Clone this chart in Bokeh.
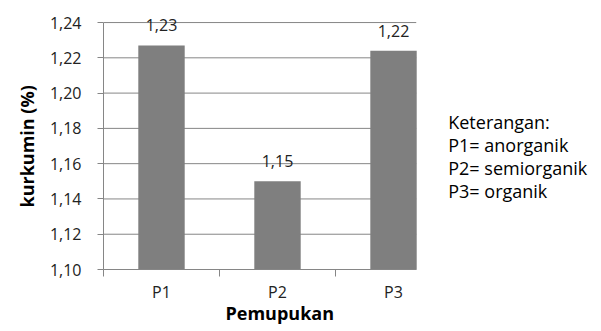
from bokeh.plotting import figure
from bokeh.models import (ColumnDataSource, FixedTicker, LabelSet, Label,
                          Range1d, Title)
from bokeh.core.properties import value
from bokeh.embed import file_html
from bokeh.resources import INLINE

# ---- data ----
categories = ["P1", "P2", "P3"]
kurkumin = [1.227, 1.150, 1.224]
y_ticks = [1.10, 1.12, 1.14, 1.16, 1.18, 1.20, 1.22, 1.24]
y_tick_labels = ["1,10", "1,12", "1,14", "1,16", "1,18", "1,20", "1,22", "1,24"]
legend_lines = ["Keterangan:", "P1= anorganik", "P2= semiorganik", "P3= organik"]
x_title = "Pemupukan"
y_title = "kurkumin (%)"

FONT = "Open Sans"
GRID = "#868686"
BAR = "#7f7f7f"
TXT = "#222222"

Y_MIN, Y_MAX = y_ticks[0], y_ticks[-1]
PLOT_END = 2.696      # right end of the chart area (category units)
X_END = 4.293         # frame extends to the canvas edge (room for the note)
Y_END = 1.2525        # a little head-room above the top gridline for labels

xs = [i + 0.5 for i in range(len(categories))]
bar_labels = [f"{v:.2f}".replace(".", ",") for v in kurkumin]
src = ColumnDataSource(dict(x=xs, top=kurkumin, label=bar_labels))

p = figure(width=601, height=331, output_backend="svg", toolbar_location=None,
           x_range=Range1d(0, X_END), y_range=Range1d(Y_MIN, Y_END),
           min_border_left=103, min_border_right=0, min_border_top=0,
           min_border_bottom=62)
p.outline_line_color = None
p.background_fill_color = "white"
p.border_fill_color = "white"
p.xgrid.grid_line_color = None
p.ygrid.grid_line_color = None

# horizontal gridlines, limited to the chart area
p.segment(x0=0, x1=PLOT_END, y0=y_ticks, y1=y_ticks,
          line_color=GRID, line_width=1)

p.vbar(x="x", top="top", bottom=Y_MIN, width=0.40, source=src,
       fill_color=BAR, line_color=None)

# y axis
yax = p.yaxis[0]
yax.bounds = (Y_MIN, Y_MAX)
yax.ticker = FixedTicker(ticks=y_ticks, minor_ticks=[])
yax.major_label_overrides = {t: l for t, l in zip(y_ticks, y_tick_labels)}
yax.axis_line_color = GRID
yax.major_tick_line_color = GRID
yax.major_tick_out = 6
yax.major_tick_in = 0
yax.minor_tick_line_color = None
yax.major_label_standoff = 16
yax.major_label_text_font = FONT
yax.major_label_text_font_size = "16px"
yax.major_label_text_color = TXT

# x axis: labels at category centres, ticks between categories
xax = p.xaxis[0]
xax.bounds = (0, PLOT_END)
xax.ticker = FixedTicker(ticks=xs, minor_ticks=[0, 1, 2])
xax.major_label_overrides = {x: c for x, c in zip(xs, categories)}
xax.axis_line_color = GRID
xax.major_tick_line_color = None
xax.major_tick_out = 0
xax.major_tick_in = 0
xax.minor_tick_line_color = GRID
xax.minor_tick_out = 7
xax.minor_tick_in = 0
xax.major_label_standoff = 4
xax.major_label_text_font = FONT
xax.major_label_text_font_size = "16px"
xax.major_label_text_color = TXT

# axis titles, placed relative to the chart area
p.add_layout(Title(text=x_title, align="left", offset=122, vertical_align="top",
                   standoff=-10, text_font=FONT, text_font_style="bold",
                   text_font_size="18px", text_color="black"), "below")
p.add_layout(Title(text=y_title, align="left", offset=62, vertical_align="top",
                   standoff=12, text_font=FONT, text_font_style="bold",
                   text_font_size="18px", text_color="black"), "left")

labels = LabelSet(x="x", y="top", text="label", source=src, y_offset=20,
                  text_align="center", text_baseline="middle",
                  text_font=value(FONT), text_font_size=value("16px"),
                  text_color=TXT)
p.add_layout(labels)

# side note (Keterangan)
for i, line in enumerate(legend_lines):
    p.add_layout(Label(x=PLOT_END, y=Y_MAX, x_offset=32, y_offset=-99 - 23 * i,
                       text=line, text_font=FONT, text_font_size="18px",
                       text_color="black", text_baseline="middle",
                       text_align="left"))

open("out.html", "w").write(file_html(p, INLINE))
